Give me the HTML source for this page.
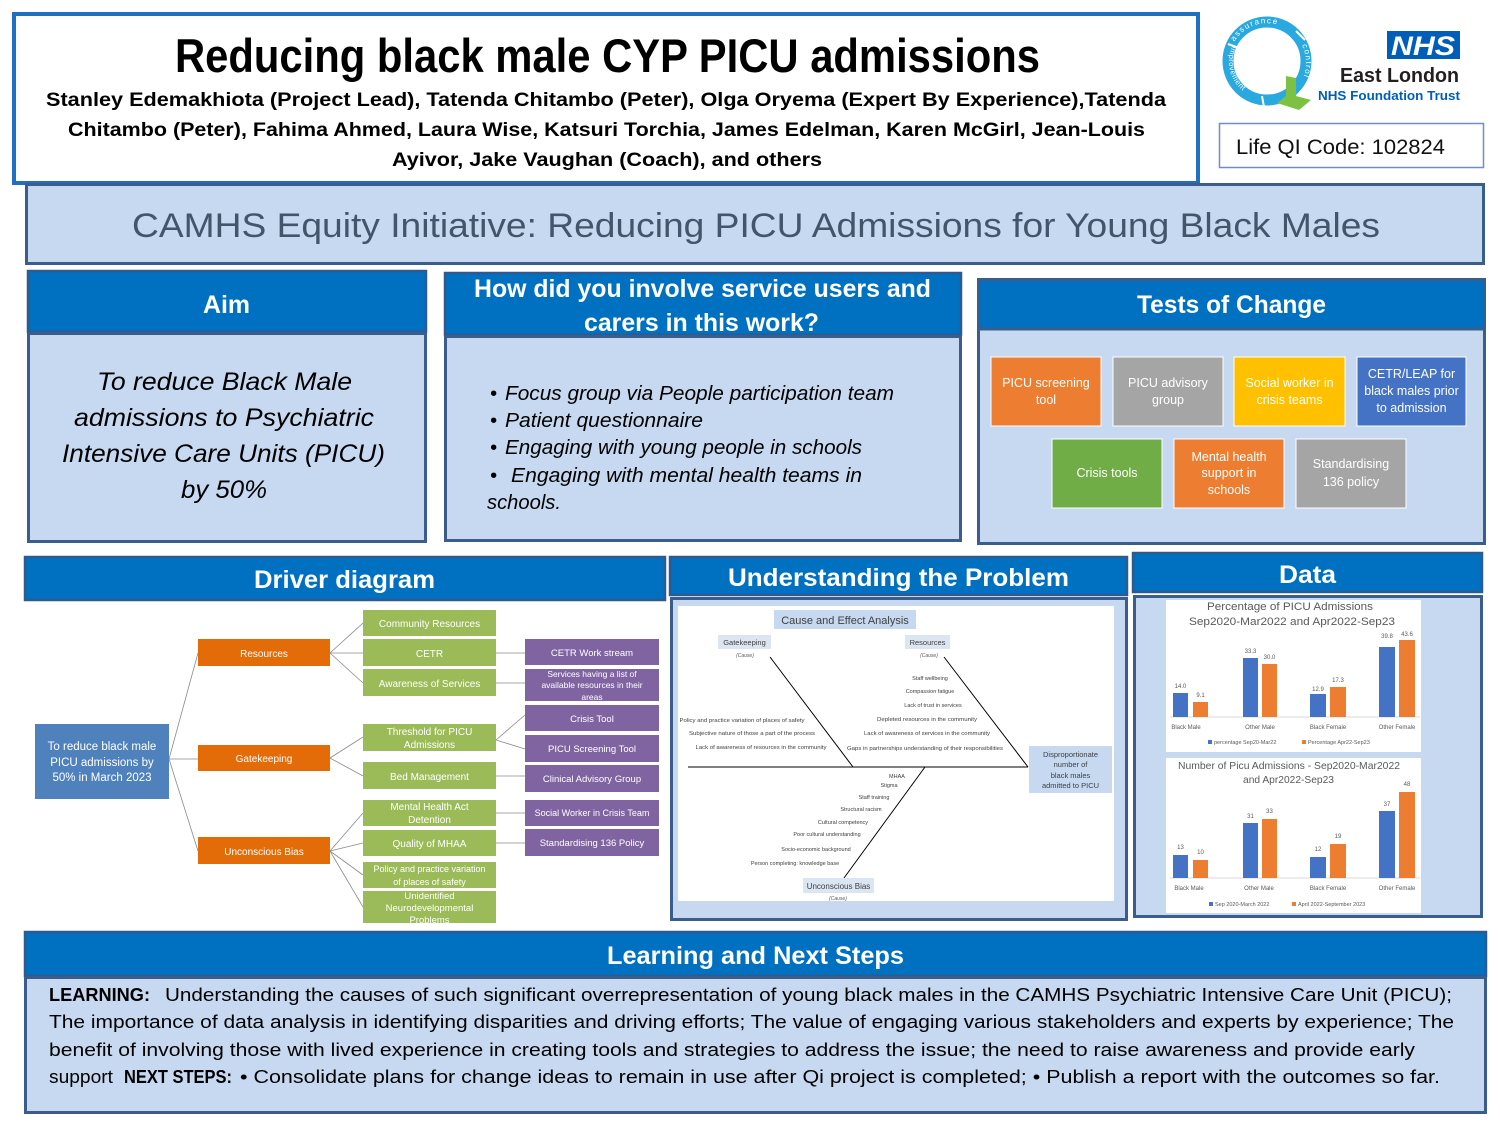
<!DOCTYPE html>
<html><head><meta charset="utf-8"><style>
html,body{margin:0;padding:0;background:#fff;}
svg{display:block;}
text{font-family:"Liberation Sans",sans-serif;}
</style></head><body>
<svg width="1500" height="1125" viewBox="0 0 1500 1125" xmlns="http://www.w3.org/2000/svg">
<rect x="0" y="0" width="1500" height="1125" fill="#fff"/>

<!-- Header box -->
<rect x="14" y="14" width="1184" height="169" fill="#fff" stroke="#1F70C1" stroke-width="4"/>
<text x="175" y="72" font-size="47" font-weight="bold" fill="#000" textLength="865" lengthAdjust="spacingAndGlyphs">Reducing black male CYP PICU admissions</text>
<text x="46" y="106" font-size="19" font-weight="bold" fill="#000" textLength="1120" lengthAdjust="spacingAndGlyphs">Stanley Edemakhiota (Project Lead), Tatenda Chitambo (Peter), Olga Oryema (Expert By Experience),Tatenda</text>
<text x="68" y="136" font-size="19" font-weight="bold" fill="#000" textLength="1077" lengthAdjust="spacingAndGlyphs">Chitambo (Peter), Fahima Ahmed, Laura Wise, Katsuri Torchia, James Edelman, Karen McGirl, Jean-Louis</text>
<text x="392" y="166" font-size="19" font-weight="bold" fill="#000" textLength="430" lengthAdjust="spacingAndGlyphs">Ayivor, Jake Vaughan (Coach),  and others</text>

<!-- Q logo -->
<g>
  <circle cx="1267" cy="61" r="39" fill="none" stroke="#29A9E0" stroke-width="11"/>
  <line x1="1296" y1="31" x2="1305" y2="40" stroke="#fff" stroke-width="2"/>
  <line x1="1228" y1="44" x2="1239" y2="48" stroke="#fff" stroke-width="2"/>
  <line x1="1262" y1="96" x2="1264" y2="107" stroke="#fff" stroke-width="2"/>
  <polygon points="1286,76 1296,78 1296,96 1311,100 1299,110 1277,103 1286,96" fill="#7DC142"/>
  <defs>
    <path id="qtop" d="M 1231,49 A 38 38 0 0 1 1303,49"/>
    <path id="qright" d="M 1300,42 A 38 38 0 0 1 1292,92"/>
    <path id="qleft" d="M 1233,44 A 38 38 0 0 0 1262,99"/>
  </defs>
  <text font-size="8" fill="#fff" letter-spacing="1.5"><textPath href="#qtop" startOffset="8">assurance</textPath></text>
  <text font-size="8" fill="#fff" letter-spacing="1.2"><textPath href="#qright" startOffset="4">control</textPath></text>
  <text font-size="7.5" fill="#fff" letter-spacing="0.6"><textPath href="#qleft" startOffset="2">improvement</textPath></text>
</g>
<!-- NHS -->
<rect x="1387" y="31" width="73" height="28" fill="#005EB8"/>
<text x="1391" y="55" font-size="27" font-weight="bold" font-style="italic" fill="#fff" textLength="64" lengthAdjust="spacingAndGlyphs">NHS</text>
<text x="1340" y="82" font-size="20" font-weight="bold" fill="#231F20" textLength="119" lengthAdjust="spacingAndGlyphs">East London</text>
<text x="1318" y="100" font-size="13" font-weight="bold" fill="#005EB8" textLength="142" lengthAdjust="spacingAndGlyphs">NHS Foundation Trust</text>
<rect x="1219.5" y="123.5" width="264" height="44" fill="#fff" stroke="#6D8EC6" stroke-width="1.5"/>
<text x="1236" y="154" font-size="21" fill="#111" textLength="209" lengthAdjust="spacingAndGlyphs">Life QI Code: 102824</text>

<!-- Subtitle banner -->
<rect x="26.5" y="184.5" width="1457" height="79" fill="#C6D9F0" stroke="#3A5D8C" stroke-width="3"/>
<text x="132" y="237" font-size="34" fill="#44546A" textLength="1248" lengthAdjust="spacingAndGlyphs">CAMHS Equity Initiative: Reducing PICU Admissions for Young Black Males</text>

<!-- Aim -->
<rect x="28" y="271" width="398" height="61" fill="#0070C0" stroke="#2F5A8F" stroke-width="2.5"/>
<rect x="28.5" y="333.5" width="397" height="208" fill="#C6D9F0" stroke="#3A5D8C" stroke-width="3"/>
<text x="203" y="313" font-size="25" font-weight="bold" fill="#fff" textLength="47" lengthAdjust="spacingAndGlyphs">Aim</text>
<g font-size="25" font-style="italic" fill="#000">
<text x="97" y="390" textLength="255" lengthAdjust="spacingAndGlyphs">To reduce Black Male</text>
<text x="74" y="426" textLength="300" lengthAdjust="spacingAndGlyphs">admissions to Psychiatric</text>
<text x="62" y="462" textLength="323" lengthAdjust="spacingAndGlyphs">Intensive Care Units (PICU)</text>
<text x="181" y="498" textLength="86" lengthAdjust="spacingAndGlyphs">by 50%</text>
</g>

<!-- How did you involve -->
<rect x="445" y="273" width="516" height="62" fill="#0070C0" stroke="#2F5A8F" stroke-width="2.5"/>
<rect x="445.5" y="336.5" width="515" height="204" fill="#C6D9F0" stroke="#3A5D8C" stroke-width="3"/>
<text x="474" y="297" font-size="25" font-weight="bold" fill="#fff" textLength="457" lengthAdjust="spacingAndGlyphs">How did you involve service users and</text>
<text x="584" y="331" font-size="25" font-weight="bold" fill="#fff" textLength="235" lengthAdjust="spacingAndGlyphs">carers in this work?</text>
<g font-size="20" font-style="italic" fill="#000">
<text x="490" y="400">•</text>
<text x="505" y="400" textLength="389" lengthAdjust="spacingAndGlyphs">Focus group via People participation team</text>
<text x="490" y="427">•</text>
<text x="505" y="427" textLength="198" lengthAdjust="spacingAndGlyphs">Patient questionnaire</text>
<text x="490" y="454">•</text>
<text x="505" y="454" textLength="357" lengthAdjust="spacingAndGlyphs">Engaging with young people in schools</text>
<text x="490" y="482">•</text>
<text x="511" y="482" textLength="351" lengthAdjust="spacingAndGlyphs">Engaging with mental health teams in</text>
<text x="487" y="509" textLength="74" lengthAdjust="spacingAndGlyphs">schools.</text>
</g>

<!-- Tests of Change -->
<rect x="978.5" y="279.5" width="506" height="264" fill="#C6D9F0" stroke="#3A5D8C" stroke-width="3"/>
<rect x="980" y="281" width="503" height="47" fill="#0070C0"/>
<line x1="980" y1="329" x2="1483" y2="329" stroke="#3A5D8C" stroke-width="3"/>
<text x="1137" y="313" font-size="25" font-weight="bold" fill="#fff" textLength="189" lengthAdjust="spacingAndGlyphs">Tests of Change</text>
<g stroke="#fff" stroke-width="1">
<rect x="991" y="357" width="110" height="69" fill="#ED7D31"/>
<rect x="1113" y="357" width="110" height="69" fill="#A5A5A5"/>
<rect x="1234" y="357" width="111" height="69" fill="#FFC000"/>
<rect x="1357" y="357" width="109" height="69" fill="#4472C4"/>
<rect x="1052" y="439" width="110" height="69" fill="#70AD47"/>
<rect x="1174" y="439" width="110" height="69" fill="#ED7D31"/>
<rect x="1296" y="439" width="110" height="69" fill="#A5A5A5"/>
</g>
<g font-size="12.5" fill="#fff" text-anchor="middle">
<text x="1046" y="387">PICU screening</text><text x="1046" y="404">tool</text>
<text x="1168" y="387">PICU advisory</text><text x="1168" y="404">group</text>
<text x="1289.5" y="387">Social worker in</text><text x="1289.5" y="404">crisis teams</text>
<text x="1411.5" y="378">CETR/LEAP for</text><text x="1411.5" y="395">black males prior</text><text x="1411.5" y="412">to admission</text>
<text x="1107" y="477">Crisis tools</text>
<text x="1229" y="461">Mental health</text><text x="1229" y="477">support in</text><text x="1229" y="494">schools</text>
<text x="1351" y="468">Standardising</text><text x="1351" y="486">136 policy</text>
</g>

<!-- Driver diagram -->
<rect x="25" y="557" width="640" height="43" fill="#0070C0" stroke="#2F5A8F" stroke-width="2.5"/>
<text x="254" y="588" font-size="25" font-weight="bold" fill="#fff" textLength="181" lengthAdjust="spacingAndGlyphs">Driver diagram</text>
<g stroke="#8a8a8a" stroke-width="0.8" fill="none">
<line x1="169" y1="759" x2="198" y2="653"/>
<line x1="169" y1="759" x2="198" y2="759"/>
<line x1="169" y1="759" x2="198" y2="851"/>
<line x1="330" y1="653" x2="363" y2="623"/>
<line x1="330" y1="653" x2="363" y2="653"/>
<line x1="330" y1="653" x2="363" y2="683"/>
<line x1="330" y1="758" x2="363" y2="737"/>
<line x1="330" y1="758" x2="363" y2="776"/>
<line x1="330" y1="851" x2="363" y2="813"/>
<line x1="330" y1="851" x2="363" y2="843"/>
<line x1="330" y1="851" x2="363" y2="875"/>
<line x1="330" y1="851" x2="363" y2="907"/>
<line x1="496" y1="653" x2="525" y2="653"/>
<line x1="496" y1="683" x2="525" y2="683"/>
<line x1="496" y1="740" x2="525" y2="715"/>
<line x1="496" y1="740" x2="525" y2="749"/>
<line x1="496" y1="776" x2="525" y2="776"/>
<line x1="496" y1="813" x2="525" y2="813"/>
<line x1="496" y1="843" x2="525" y2="843"/>
</g>
<rect x="35" y="724" width="134" height="75" fill="#4F81BD"/>
<g fill="#E36C09">
<rect x="198" y="639" width="132" height="27"/>
<rect x="198" y="745" width="132" height="26"/>
<rect x="198" y="837" width="132" height="27"/>
</g>
<g fill="#9BBB59">
<rect x="363" y="610" width="133" height="26"/>
<rect x="363" y="639" width="133" height="27"/>
<rect x="363" y="669" width="133" height="27"/>
<rect x="363" y="724" width="133" height="27"/>
<rect x="363" y="762" width="133" height="27"/>
<rect x="363" y="800" width="133" height="26"/>
<rect x="363" y="830" width="133" height="26"/>
<rect x="363" y="862" width="133" height="26"/>
<rect x="363" y="891" width="133" height="32"/>
</g>
<g fill="#8064A2">
<rect x="525" y="639" width="134" height="26"/>
<rect x="525" y="669" width="134" height="32"/>
<rect x="525" y="705" width="134" height="26"/>
<rect x="525" y="735" width="134" height="27"/>
<rect x="525" y="765" width="134" height="27"/>
<rect x="525" y="800" width="134" height="26"/>
<rect x="525" y="829" width="134" height="27"/>
</g>
<g fill="#fff" text-anchor="middle" font-size="11.5">
<text x="102" y="750">To reduce black male</text>
<text x="102" y="766">PICU admissions by</text>
<text x="102" y="781">50% in March 2023</text>
</g>
<g fill="#fff" text-anchor="middle" font-size="10">
<text x="264" y="657">Resources</text>
<text x="264" y="762">Gatekeeping</text>
<text x="264" y="855">Unconscious Bias</text>
<text x="429.5" y="627">Community Resources</text>
<text x="429.5" y="657">CETR</text>
<text x="429.5" y="687">Awareness of Services</text>
<text x="429.5" y="735">Threshold for PICU</text>
<text x="429.5" y="748">Admissions</text>
<text x="429.5" y="780">Bed Management</text>
<text x="429.5" y="810">Mental Health Act</text>
<text x="429.5" y="823">Detention</text>
<text x="429.5" y="847">Quality of MHAA</text>
<text x="592" y="656" font-size="9.5">CETR Work stream</text>
<text x="592" y="722" font-size="9.5">Crisis Tool</text>
<text x="592" y="752" font-size="9.5">PICU Screening Tool</text>
<text x="592" y="782" font-size="9.5">Clinical Advisory Group</text>
<text x="592" y="816" font-size="9">Social Worker in Crisis Team</text>
<text x="592" y="846" font-size="9.5">Standardising 136 Policy</text>
</g>
<g fill="#fff" text-anchor="middle" font-size="8.5">
<text x="429.5" y="872" font-size="9">Policy and practice variation</text>
<text x="429.5" y="885" font-size="9">of places of safety</text>
<text x="429.5" y="899" font-size="9.5">Unidentified</text>
<text x="429.5" y="911" font-size="9.5">Neurodevelopmental</text>
<text x="429.5" y="923" font-size="9.5">Problems</text>
<text x="592" y="677">Services having a list of</text>
<text x="592" y="688">available resources in their</text>
<text x="592" y="700">areas</text>
</g>
<rect x="360" y="924" width="140" height="6" fill="#fff"/>

<!-- Understanding the Problem -->
<rect x="670" y="557" width="457" height="38" fill="#0070C0" stroke="#2F5A8F" stroke-width="2.5"/>
<text x="728" y="586" font-size="25" font-weight="bold" fill="#fff" textLength="341" lengthAdjust="spacingAndGlyphs">Understanding the Problem</text>
<rect x="671.5" y="598.5" width="455" height="321" fill="#C6D9F0" stroke="#3A5D8C" stroke-width="3"/>
<rect x="678" y="606" width="436" height="295" fill="#fff"/>
<rect x="774" y="610" width="142" height="19" fill="#C6D9F0"/>
<text x="845" y="624" font-size="11" fill="#404040" text-anchor="middle">Cause and Effect Analysis</text>
<rect x="718" y="635" width="53" height="14" fill="#DCE6F2"/>
<text x="744.5" y="645" font-size="7.5" fill="#404040" text-anchor="middle">Gatekeeping</text>
<text x="745" y="657" font-size="5" font-style="italic" fill="#595959" text-anchor="middle">(Cause)</text>
<rect x="905" y="635" width="45" height="14" fill="#DCE6F2"/>
<text x="927.5" y="645" font-size="7.5" fill="#404040" text-anchor="middle">Resources</text>
<text x="929" y="657" font-size="5" font-style="italic" fill="#595959" text-anchor="middle">(Cause)</text>
<g stroke="#000" stroke-width="1">
<line x1="688" y1="767" x2="1028" y2="767"/>
<line x1="770" y1="657" x2="853" y2="767"/>
<line x1="944" y1="657" x2="1028" y2="767"/>
<line x1="925" y1="767" x2="844" y2="878"/>
</g>
<rect x="1029" y="746" width="83" height="47" fill="#C6D9F0"/>
<g font-size="7.5" fill="#404040" text-anchor="middle">
<text x="1070.5" y="757">Disproportionate</text>
<text x="1070.5" y="767">number of</text>
<text x="1070.5" y="778">black males</text>
<text x="1070.5" y="788">admitted to PICU</text>
</g>
<g font-size="5.5" fill="#404040" text-anchor="middle">
<text x="742" y="722" textLength="125" lengthAdjust="spacingAndGlyphs">Policy and practice variation of places of safety</text>
<text x="752" y="735" textLength="126" lengthAdjust="spacingAndGlyphs">Subjective nature of those a part of the process</text>
<text x="761" y="749" textLength="131" lengthAdjust="spacingAndGlyphs">Lack of awareness of resources in the community</text>
<text x="930" y="680">Staff wellbeing</text>
<text x="930" y="693">Compassion fatigue</text>
<text x="933" y="707">Lack of trust in services</text>
<text x="927" y="721" textLength="100" lengthAdjust="spacingAndGlyphs">Depleted resources in the community</text>
<text x="927" y="735" textLength="126" lengthAdjust="spacingAndGlyphs">Lack of awareness of services in the community</text>
<text x="925" y="750" textLength="156" lengthAdjust="spacingAndGlyphs">Gaps in partnerships understanding of their responsibilities</text>
<text x="897" y="778">MHAA</text>
<text x="889" y="787">Stigma</text>
<text x="874" y="799">Staff training</text>
<text x="861" y="811">Structural racism</text>
<text x="843" y="824">Cultural competency</text>
<text x="827" y="836">Poor cultural understanding</text>
<text x="816" y="851">Socio-economic background</text>
<text x="795" y="865">Person completing: knowledge base</text>
</g>
<rect x="803" y="878" width="71" height="15" fill="#DCE6F2"/>
<text x="838.5" y="889" font-size="8" fill="#404040" text-anchor="middle">Unconscious Bias</text>
<text x="838" y="900" font-size="5" font-style="italic" fill="#595959" text-anchor="middle">(Cause)</text>

<!-- Data -->
<rect x="1133" y="553" width="349" height="39" fill="#0070C0" stroke="#2F5A8F" stroke-width="2.5"/>
<text x="1279" y="583" font-size="25" font-weight="bold" fill="#fff" textLength="57" lengthAdjust="spacingAndGlyphs">Data</text>
<rect x="1134.5" y="596.5" width="347" height="320" fill="#C6D9F0" stroke="#3A5D8C" stroke-width="3"/>

<!-- Chart 1 -->
<rect x="1166" y="600" width="255" height="152" fill="#fff"/>
<text x="1207" y="610" font-size="11" fill="#595959" textLength="166" lengthAdjust="spacingAndGlyphs">Percentage of PICU Admissions</text>
<text x="1189" y="625" font-size="11" fill="#595959" textLength="206" lengthAdjust="spacingAndGlyphs">Sep2020-Mar2022 and Apr2022-Sep23</text>
<line x1="1170" y1="717" x2="1420" y2="717" stroke="#d9d9d9" stroke-width="1"/>
<g fill="#4472C4">
<rect x="1173" y="693" width="15" height="24"/>
<rect x="1243" y="658" width="15" height="59"/>
<rect x="1310" y="694" width="16" height="23"/>
<rect x="1379" y="647" width="16" height="70"/>
</g>
<g fill="#ED7D31">
<rect x="1193" y="702" width="15" height="15"/>
<rect x="1262" y="664" width="15" height="53"/>
<rect x="1330" y="687" width="16" height="30"/>
<rect x="1399" y="640" width="16" height="77"/>
</g>
<g font-size="6" fill="#595959" text-anchor="middle">
<text x="1180.5" y="688">14.0</text>
<text x="1200.5" y="697">9.1</text>
<text x="1250.5" y="653">33.3</text>
<text x="1269.5" y="659">30.0</text>
<text x="1318" y="691">12.9</text>
<text x="1338" y="682">17.3</text>
<text x="1387" y="638">39.8</text>
<text x="1407" y="636">43.6</text>
<text x="1186" y="729">Black Male</text>
<text x="1260" y="729">Other Male</text>
<text x="1328" y="729">Black Female</text>
<text x="1397" y="729">Other Female</text>
</g>
<rect x="1208" y="740" width="4" height="4" fill="#4472C4"/>
<text x="1214" y="744" font-size="5.5" fill="#595959">percentage Sep20-Mar22</text>
<rect x="1302" y="740" width="4" height="4" fill="#ED7D31"/>
<text x="1308" y="744" font-size="5.5" fill="#595959">Percentage Apr22-Sep23</text>

<!-- Chart 2 -->
<rect x="1166" y="758" width="255" height="155" fill="#fff"/>
<text x="1178" y="769" font-size="10.5" fill="#595959" textLength="222" lengthAdjust="spacingAndGlyphs">Number of Picu Admissions - Sep2020-Mar2022</text>
<text x="1243" y="783" font-size="10.5" fill="#595959" textLength="91" lengthAdjust="spacingAndGlyphs">and Apr2022-Sep23</text>
<line x1="1170" y1="878" x2="1420" y2="878" stroke="#d9d9d9" stroke-width="1"/>
<g fill="#4472C4">
<rect x="1173" y="855" width="15" height="23"/>
<rect x="1243" y="823" width="15" height="55"/>
<rect x="1310" y="857" width="16" height="21"/>
<rect x="1379" y="811" width="16" height="67"/>
</g>
<g fill="#ED7D31">
<rect x="1193" y="860" width="15" height="18"/>
<rect x="1262" y="819" width="15" height="59"/>
<rect x="1330" y="844" width="16" height="34"/>
<rect x="1399" y="792" width="16" height="86"/>
</g>
<g font-size="6" fill="#595959" text-anchor="middle">
<text x="1180.5" y="849">13</text>
<text x="1200.5" y="854">10</text>
<text x="1250.5" y="818">31</text>
<text x="1269.5" y="813">33</text>
<text x="1318" y="851">12</text>
<text x="1338" y="838">19</text>
<text x="1387" y="806">37</text>
<text x="1407" y="786">48</text>
<text x="1189" y="890">Black Male</text>
<text x="1259" y="890">Other Male</text>
<text x="1328" y="890">Black Female</text>
<text x="1397" y="890">Other Female</text>
</g>
<rect x="1209" y="902" width="4" height="4" fill="#4472C4"/>
<text x="1215" y="906" font-size="5.5" fill="#595959">Sep 2020-March 2022</text>
<rect x="1292" y="902" width="4" height="4" fill="#ED7D31"/>
<text x="1298" y="906" font-size="5.5" fill="#595959">April 2022-September 2023</text>

<!-- Learning and Next Steps -->
<rect x="25" y="932" width="1461" height="44" fill="#0070C0" stroke="#2F5A8F" stroke-width="2.5"/>
<text x="607" y="964" font-size="25" font-weight="bold" fill="#fff" textLength="297" lengthAdjust="spacingAndGlyphs">Learning and Next Steps</text>
<rect x="25.5" y="977.5" width="1460" height="135" fill="#C6D9F0" stroke="#3A5D8C" stroke-width="3"/>
<g font-size="18" fill="#000">
<text x="49" y="1001" font-weight="bold" textLength="101" lengthAdjust="spacingAndGlyphs">LEARNING:</text>
<text x="165" y="1001" textLength="1287" lengthAdjust="spacingAndGlyphs">Understanding the causes of such significant overrepresentation of young black males in the CAMHS Psychiatric Intensive Care Unit (PICU);</text>
<text x="49" y="1028" textLength="1405" lengthAdjust="spacingAndGlyphs">The importance of data analysis in identifying disparities and driving efforts; The value of engaging various stakeholders and experts by experience; The</text>
<text x="49" y="1056" textLength="1366" lengthAdjust="spacingAndGlyphs">benefit of involving those with lived experience in creating tools and strategies to address the issue;  the need to raise awareness and provide early</text>
<text x="49" y="1083" textLength="64" lengthAdjust="spacingAndGlyphs">support</text>
<text x="124" y="1083" font-weight="bold" textLength="108" lengthAdjust="spacingAndGlyphs">NEXT STEPS:</text>
<text x="240" y="1083" textLength="1200" lengthAdjust="spacingAndGlyphs">• Consolidate plans for change ideas to remain in use after Qi project is completed; • Publish a report with the outcomes so far.</text>
</g>
</svg>
</body></html>
